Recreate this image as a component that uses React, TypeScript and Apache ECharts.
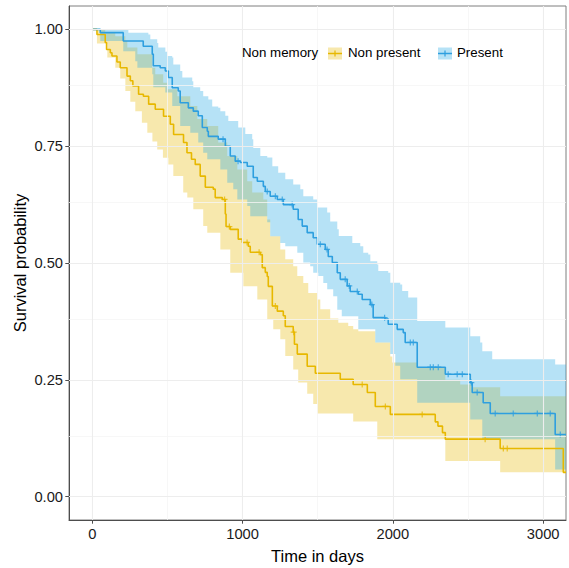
import React, { useEffect, useRef } from "react";
import * as echarts from "echarts";

// ---------- data ----------
const X_MIN = -155;
const X_MAX = 3152;
const Y_MIN = -0.05;
const Y_MAX = 1.05;

const xTicks = [0, 1000, 2000, 3000];
const xMinorGrid = [500, 1500, 2500];
const yTicks = [0, 0.25, 0.5, 0.75, 1];
const yMinorGrid = [0.125, 0.375, 0.625, 0.875];

const groupNames = ["Non present", "Present"];
const legendTitle = "Non memory";

// Non present: Kaplan-Meier steps
const timesNP = [0,31,86,95,120,131,164,186,231,253,270,308,340,375,419,474,519,541,607,630,660,685,718,752,805,818,865,885,890,918,971,998,1038,1051,1118,1131,1151,1164,1171,1198,1231,1271,1284,1337,1345,1364,1430,1484,1650,1736,1830,1883,1983,2282,2300,2330,2349,2714,3134];
const survNP = [1.000,0.989,0.972,0.957,0.950,0.943,0.930,0.918,0.900,0.890,0.879,0.861,0.857,0.840,0.829,0.814,0.797,0.775,0.758,0.736,0.722,0.711,0.686,0.662,0.658,0.640,0.636,0.605,0.578,0.572,0.551,0.544,0.536,0.523,0.518,0.490,0.480,0.471,0.450,0.408,0.397,0.387,0.364,0.352,0.326,0.305,0.279,0.264,0.251,0.240,0.223,0.193,0.176,0.160,0.151,0.137,0.123,0.103,0.052];
// Non present: confidence band
const timesNU = [0,86,153,220,233,300,399,419,472,499,566,652,699,765,838,898,965,1031,1064,1138,1164,1184,1251,1284,1337,1364,1404,1437,1497,1517,1583,1637,1703,1736,1770,1883,1983,1996,2162,2349,2448,2528,2714];
const survNU = [1.000,0.993,0.985,0.975,0.961,0.947,0.918,0.904,0.886,0.872,0.857,0.836,0.808,0.793,0.758,0.729,0.700,0.675,0.651,0.636,0.593,0.557,0.529,0.508,0.493,0.472,0.457,0.436,0.422,0.401,0.381,0.372,0.365,0.358,0.354,0.330,0.300,0.287,0.277,0.250,0.240,0.234,0.215];
const timesNL = [0,31,100,153,186,220,253,286,330,366,400,432,470,506,539,605,632,672,738,765,852,918,1005,1098,1164,1204,1251,1284,1337,1370,1430,1470,1497,1736,1896,2349,2714];
const survNL = [1.000,0.970,0.940,0.918,0.895,0.868,0.845,0.825,0.800,0.779,0.760,0.743,0.725,0.711,0.686,0.651,0.640,0.615,0.579,0.565,0.529,0.479,0.450,0.422,0.379,0.358,0.337,0.301,0.272,0.244,0.220,0.198,0.178,0.161,0.123,0.076,0.052];
// Non present: censored observations
const censorNP = [[880,0.636],[912,0.578],[1030,0.544],[1110,0.523],[1218,0.408],[1340,0.352],[1796,0.240],[1950,0.193],[2195,0.176],[2614,0.123],[2735,0.103],[2761,0.103]];

// Present: Kaplan-Meier steps
const timesP = [0,53,206,339,399,406,452,486,506,532,572,585,639,672,705,732,765,772,838,885,918,951,985,1031,1071,1098,1138,1151,1184,1231,1271,1337,1370,1397,1430,1470,1497,1550,1570,1597,1630,1650,1696,1716,1770,1796,1850,1869,1949,1969,2029,2069,2082,2162,2349,2515,2528,2601,2648,3080];
const survP = [1.000,0.993,0.975,0.964,0.947,0.922,0.918,0.911,0.897,0.875,0.868,0.843,0.832,0.825,0.815,0.790,0.782,0.771,0.765,0.750,0.729,0.718,0.715,0.707,0.683,0.675,0.664,0.653,0.643,0.636,0.625,0.615,0.593,0.579,0.565,0.554,0.540,0.529,0.514,0.501,0.479,0.465,0.451,0.439,0.433,0.422,0.411,0.383,0.380,0.369,0.358,0.351,0.330,0.277,0.262,0.244,0.223,0.201,0.178,0.133];
// Present: confidence band
const timesPU = [0,240,373,386,432,439,486,499,532,539,585,599,665,672,718,738,772,798,838,852,885,905,971,1018,1064,1071,1118,1164,1198,1237,1284,1337,1384,1404,1470,1497,1563,1583,1630,1640,1730,1783,1803,1836,1850,1896,1903,1969,1983,2049,2062,2102,2162,2349,2515,2581,2595,2661,3080];
const survPU = [1.000,0.993,0.989,0.979,0.971,0.961,0.952,0.943,0.940,0.925,0.911,0.897,0.889,0.876,0.868,0.857,0.850,0.835,0.832,0.825,0.815,0.804,0.790,0.776,0.765,0.746,0.729,0.726,0.707,0.693,0.679,0.668,0.658,0.643,0.636,0.619,0.608,0.589,0.572,0.558,0.543,0.536,0.522,0.518,0.504,0.497,0.483,0.479,0.458,0.454,0.440,0.426,0.376,0.362,0.343,0.330,0.311,0.294,0.283];
const timesPL = [0,53,206,286,300,399,406,486,532,585,652,705,738,765,852,898,938,965,1031,1051,1164,1184,1251,1284,1364,1404,1450,1470,1504,1537,1563,1603,1630,1660,1770,1883,1983,2016,2049,2162,2515,2595,3080];
const survPL = [1.000,0.975,0.953,0.932,0.918,0.904,0.876,0.865,0.836,0.793,0.779,0.758,0.736,0.722,0.700,0.672,0.658,0.636,0.622,0.600,0.587,0.557,0.543,0.536,0.522,0.501,0.493,0.479,0.472,0.457,0.444,0.429,0.400,0.386,0.358,0.330,0.305,0.280,0.251,0.201,0.165,0.123,0.058];
// Present: censored observations
const censorP = [[870,0.765],[970,0.718],[1164,0.653],[1218,0.643],[1264,0.636],[1330,0.625],[1517,0.540],[1562,0.529],[1683,0.465],[1710,0.451],[1763,0.439],[1860,0.411],[1945,0.383],[2116,0.330],[2136,0.330],[2249,0.277],[2269,0.277],[2302,0.277],[2368,0.262],[2428,0.262],[2462,0.262],[2522,0.244],[2561,0.223],[2681,0.178],[2801,0.178],[2961,0.178],[3047,0.178],[3114,0.133]];

// ---------- styling ----------
const COL_NP = "#E7B800";
const COL_P = "#2E9FDF";
const FILL_NP = "rgba(231,184,0,0.32)";
const FILL_P = "rgba(40,170,230,0.34)";
const FONT = "'Liberation Sans', Arial, Helvetica, sans-serif";
const PLUS = "path://M4,0H6V4H10V6H6V10H4V6H0V4H4Z";

function zip(t: number[], v: number[], tEnd: number): number[][] {
  const out = t.map((x, i) => [x, v[i]]);
  out.push([tEnd, v[v.length - 1]]);
  return out;
}

function stepPts(t: number[], v: number[], tEnd: number): number[][] {
  const pts: number[][] = [];
  for (let i = 0; i < t.length; i++) {
    const next = i + 1 < t.length ? t[i + 1] : tEnd;
    pts.push([t[i], v[i]]);
    pts.push([next, v[i]]);
  }
  return pts;
}

function bandSeries(tu: number[], vu: number[], tl: number[], vl: number[], fill: string, name: string) {
  const upper = stepPts(tu, vu, X_MAX);
  const lower = stepPts(tl, vl, X_MAX).reverse();
  const poly = upper.concat(lower);
  return {
    type: "custom",
    name,
    z: 2,
    silent: true,
    clip: true,
    data: [[0, 1]],
    renderItem: (params: any, api: any) => {
      if (params.dataIndex !== 0) return null;
      return {
        type: "polygon",
        shape: { points: poly.map((p) => api.coord(p)) },
        style: { fill, stroke: "none" },
      };
    },
  };
}

function gridLines(vals: number[], axis: "xAxis" | "yAxis", color: string, width: number) {
  return vals.map((v) => ({ [axis]: v, lineStyle: { color, width, type: "solid" } }));
}

export default function App() {
  const ref = useRef<HTMLDivElement>(null);

  useEffect(() => {
    if (!ref.current) return;
    const chart = echarts.init(ref.current, null, { renderer: "svg" });

    const tickStyle = { color: "#4d4d4d", width: 1 };
    const option: any = {
      animation: false,
      textStyle: { fontFamily: FONT },
      grid: {
        left: 69,
        right: 3,
        top: 6,
        bottom: 48,
        show: true,
        borderColor: "#7f7f7f",
        borderWidth: 1,
        backgroundColor: "#fff",
        containLabel: false,
        outerBoundsMode: "none",
      },
      xAxis: {
        type: "value",
        min: X_MIN,
        max: X_MAX,
        splitLine: { show: false },
        axisLine: { show: true, onZero: false, lineStyle: tickStyle },
        axisTick: { show: true, customValues: xTicks, length: 3.7, lineStyle: tickStyle },
        axisLabel: {
          customValues: xTicks,
          fontSize: 14.7,
          color: "#1a1a1a",
          margin: 6,
          fontFamily: FONT,
          formatter: (v: number) => String(v),
        },
        name: "Time in days",
        nameLocation: "middle",
        nameGap: 27,
        nameMoveOverlap: false,
        nameTextStyle: { fontSize: 16.5, color: "#000", fontFamily: FONT },
      },
      yAxis: {
        type: "value",
        min: Y_MIN,
        max: Y_MAX,
        splitLine: { show: false },
        axisLine: { show: true, onZero: false, lineStyle: tickStyle },
        axisTick: { show: true, customValues: yTicks, length: 3.7, lineStyle: tickStyle },
        axisLabel: {
          customValues: yTicks,
          fontSize: 14.7,
          color: "#1a1a1a",
          margin: 6,
          fontFamily: FONT,
          formatter: (v: number) => v.toFixed(2),
        },
        name: "Survival probability",
        nameLocation: "middle",
        nameGap: 41,
        nameMoveOverlap: false,
        nameTextStyle: { fontSize: 16.5, color: "#000", fontFamily: FONT },
      },
      series: [
        {
          type: "line",
          name: "grid",
          z: 1,
          silent: true,
          data: [],
          markLine: {
            silent: true,
            symbol: "none",
            label: { show: false },
            animation: false,
            data: [
              ...gridLines(xMinorGrid, "xAxis", "#f5f5f5", 0.8),
              ...gridLines(yMinorGrid, "yAxis", "#f5f5f5", 0.8),
              ...gridLines(xTicks, "xAxis", "#ededed", 1.1),
              ...gridLines(yTicks, "yAxis", "#ededed", 1.1),
            ],
          },
        },
        bandSeries(timesNU, survNU, timesNL, survNL, FILL_NP, groupNames[0] + " CI"),
        bandSeries(timesPU, survPU, timesPL, survPL, FILL_P, groupNames[1] + " CI"),
        {
          type: "line",
          name: groupNames[0],
          z: 3,
          step: "end",
          showSymbol: false,
          symbol: "none",
          silent: true,
          data: zip(timesNP, survNP, X_MAX),
          lineStyle: { color: COL_NP, width: 1.6 },
        },
        {
          type: "line",
          name: groupNames[1],
          z: 3,
          step: "end",
          showSymbol: false,
          symbol: "none",
          silent: true,
          data: zip(timesP, survP, X_MAX),
          lineStyle: { color: COL_P, width: 1.6 },
        },
        {
          type: "scatter",
          name: groupNames[0] + " censored",
          z: 4,
          silent: true,
          symbol: PLUS,
          symbolSize: 6,
          data: censorNP,
          itemStyle: { color: COL_NP },
        },
        {
          type: "scatter",
          name: groupNames[1] + " censored",
          z: 4,
          silent: true,
          symbol: PLUS,
          symbolSize: 6,
          data: censorP,
          itemStyle: { color: COL_P },
        },
      ],
      graphic: [
        {
          type: "text",
          left: 242,
          top: 45.5,
          style: { text: legendTitle, fontSize: 13.3, fill: "#000", fontFamily: FONT },
          z: 10,
        },
        { type: "rect", shape: { x: 328, y: 47.5, width: 14, height: 12 }, style: { fill: FILL_NP }, z: 10 },
        { type: "line", shape: { x1: 328, y1: 53.5, x2: 342, y2: 53.5 }, style: { stroke: COL_NP, lineWidth: 1.5 }, z: 11 },
        { type: "line", shape: { x1: 335, y1: 50.5, x2: 335, y2: 56.5 }, style: { stroke: COL_NP, lineWidth: 1.2 }, z: 11 },
        {
          type: "text",
          left: 348,
          top: 45.5,
          style: { text: groupNames[0], fontSize: 13.3, fill: "#000", fontFamily: FONT },
          z: 10,
        },
        { type: "rect", shape: { x: 438, y: 47.5, width: 14, height: 12 }, style: { fill: FILL_P }, z: 10 },
        { type: "line", shape: { x1: 438, y1: 53.5, x2: 452, y2: 53.5 }, style: { stroke: COL_P, lineWidth: 1.5 }, z: 11 },
        { type: "line", shape: { x1: 445, y1: 50.5, x2: 445, y2: 56.5 }, style: { stroke: COL_P, lineWidth: 1.2 }, z: 11 },
        {
          type: "text",
          left: 457,
          top: 45.5,
          style: { text: groupNames[1], fontSize: 13.3, fill: "#000", fontFamily: FONT },
          z: 10,
        },
      ],
    };

    chart.setOption(option);
    return () => chart.dispose();
  }, []);

  return (
    <div
      ref={ref}
      style={{ position: "absolute", left: 0, top: 0, width: 569, height: 568, background: "#fff" }}
    />
  );
}
